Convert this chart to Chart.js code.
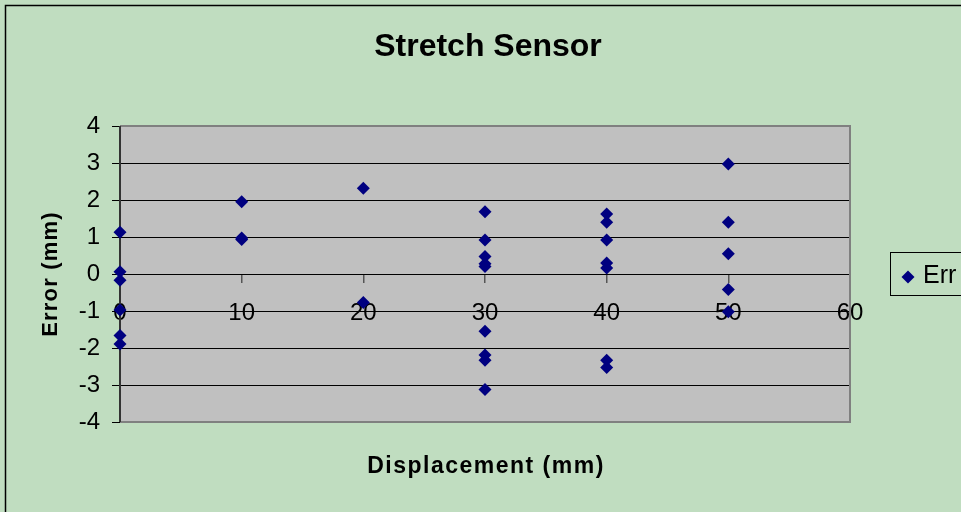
<!DOCTYPE html>
<html>
<head>
<meta charset="utf-8">
<script src="https://cdn.jsdelivr.net/npm/chart.js@4/dist/chart.umd.min.js"></script>
<style>
  html, body { margin: 0; padding: 0; background: #c0ddc0; }
  #wrap { width: 961px; height: 512px; position: relative; }
</style>
</head>
<body>
<div id="wrap"><canvas id="chart" width="961" height="512"></canvas></div>
<script>
const chartTitle = "Stretch Sensor";
const xTitle = "Displacement (mm)";
const yTitle = "Error (mm)";
const seriesName = "Err";

const xTicks = [0, 10, 20, 30, 40, 50, 60];
const yTicks = [-4, -3, -2, -1, 0, 1, 2, 3, 4];

const displacement = [
    0, 0, 0, 0, 0, 0,
    10, 10, 10,
    20, 20,
    30, 30, 30, 30, 30, 30, 30, 30, 30,
    40, 40, 40, 40, 40, 40, 40,
    50, 50, 50, 50, 50
];
const errorMm = [
    1.13, 0.06, -0.17, -0.97, -1.66, -1.89,
    1.95, 0.97, 0.93,
    2.32, -0.77,
    1.68, 0.92, 0.47, 0.28, 0.20, -1.55, -2.19, -2.33, -3.12,
    1.62, 1.40, 0.92, 0.30, 0.16, -2.33, -2.53,
    2.97, 1.40, 0.55, -0.42, -1.02
];

const FONT = "'Liberation Sans', Arial, sans-serif";
const NAVY = "#000080";

const decor = {
    id: "decor",
    beforeDraw(chart) {
        const ctx = chart.ctx;
        const a = chart.chartArea;
        ctx.save();
        ctx.fillStyle = "#c0ddc0";
        ctx.fillRect(0, 0, chart.width, chart.height);
        ctx.strokeStyle = "#000";
        ctx.lineWidth = 1.5;
        ctx.strokeRect(5.5, 5.5, 1200, 1200);
        ctx.fillStyle = "#c0c0c0";
        ctx.fillRect(a.left, a.top, a.right - a.left, a.bottom - a.top);
        ctx.restore();
    },
    beforeDatasetsDraw(chart) {
        const ctx = chart.ctx;
        const a = chart.chartArea;
        ctx.save();
        ctx.strokeStyle = "#808080";
        ctx.lineWidth = 2;
        ctx.beginPath();
        ctx.moveTo(a.left, a.top);
        ctx.lineTo(a.right, a.top);
        ctx.lineTo(a.right, a.bottom);
        ctx.lineTo(a.left, a.bottom);
        ctx.stroke();
        ctx.strokeStyle = "#333";
        ctx.beginPath();
        ctx.moveTo(a.left, a.top);
        ctx.lineTo(a.left, a.bottom);
        ctx.stroke();
        ctx.restore();
    },
    afterDraw(chart) {
        const ctx = chart.ctx;
        const a = chart.chartArea;
        ctx.save();
        ctx.fillStyle = "#000";
        ctx.textAlign = "center";
        ctx.textBaseline = "alphabetic";

        ctx.font = "bold 32px " + FONT;
        ctx.fillText(chartTitle, (a.left + a.right) / 2 + 3, 56);

        ctx.font = "bold 23px " + FONT;
        ctx.letterSpacing = "1.5px";
        ctx.fillText(xTitle, (a.left + a.right) / 2 + 1, 473);

        ctx.font = "bold 22px " + FONT;
        ctx.letterSpacing = "1.2px";
        ctx.translate(57, (a.top + a.bottom) / 2);
        ctx.rotate(-Math.PI / 2);
        ctx.fillText(yTitle, 0, 0);
        ctx.restore();

        // legend
        ctx.save();
        ctx.strokeStyle = "#000";
        ctx.lineWidth = 1;
        ctx.strokeRect(890.5, 252.5, 100, 43);
        ctx.fillStyle = NAVY;
        ctx.beginPath();
        ctx.moveTo(908, 270.5);
        ctx.lineTo(914.5, 277);
        ctx.lineTo(908, 283.5);
        ctx.lineTo(901.5, 277);
        ctx.closePath();
        ctx.fill();
        ctx.fillStyle = "#000";
        ctx.font = "25px " + FONT;
        ctx.textBaseline = "alphabetic";
        ctx.fillText(seriesName, 923, 283);
        ctx.restore();
    }
};

new Chart(document.getElementById("chart"), {
    type: "scatter",
    data: {
        datasets: [{
            label: seriesName,
            data: displacement.map((x, i) => ({ x: x, y: errorMm[i] })),
            pointStyle: "rectRot",
            pointRadius: 6.5,
            pointHoverRadius: 6.5,
            backgroundColor: NAVY,
            borderColor: NAVY,
            borderWidth: 0,
            clip: false
        }]
    },
    options: {
        responsive: false,
        animation: false,
        layout: { padding: { top: 126, right: 111, bottom: 90, left: 0 } },
        plugins: {
            legend: { display: false },
            title: { display: false },
            tooltip: { enabled: false }
        },
        scales: {
            x: {
                type: "linear",
                position: { y: 0 },
                min: xTicks[0],
                max: xTicks[xTicks.length - 1],
                ticks: {
                    stepSize: 10,
                    color: "#000",
                    padding: 17,
                    maxRotation: 0,
                    font: { family: FONT, size: 24 }
                },
                grid: { drawOnChartArea: false, drawTicks: true, tickLength: 8, color: "#555", lineWidth: 1.5 },
                border: { display: true, color: "#000", width: 1 }
            },
            y: {
                type: "linear",
                min: yTicks[0],
                max: yTicks[yTicks.length - 1],
                afterFit(scale) { scale.width = 120; },
                ticks: {
                    stepSize: 1,
                    color: "#000",
                    padding: 12,
                    font: { family: FONT, size: 24 }
                },
                grid: { color: "#000", lineWidth: 1, tickLength: 8 },
                border: { display: false }
            }
        }
    },
    plugins: [decor]
});
</script>
</body>
</html>
